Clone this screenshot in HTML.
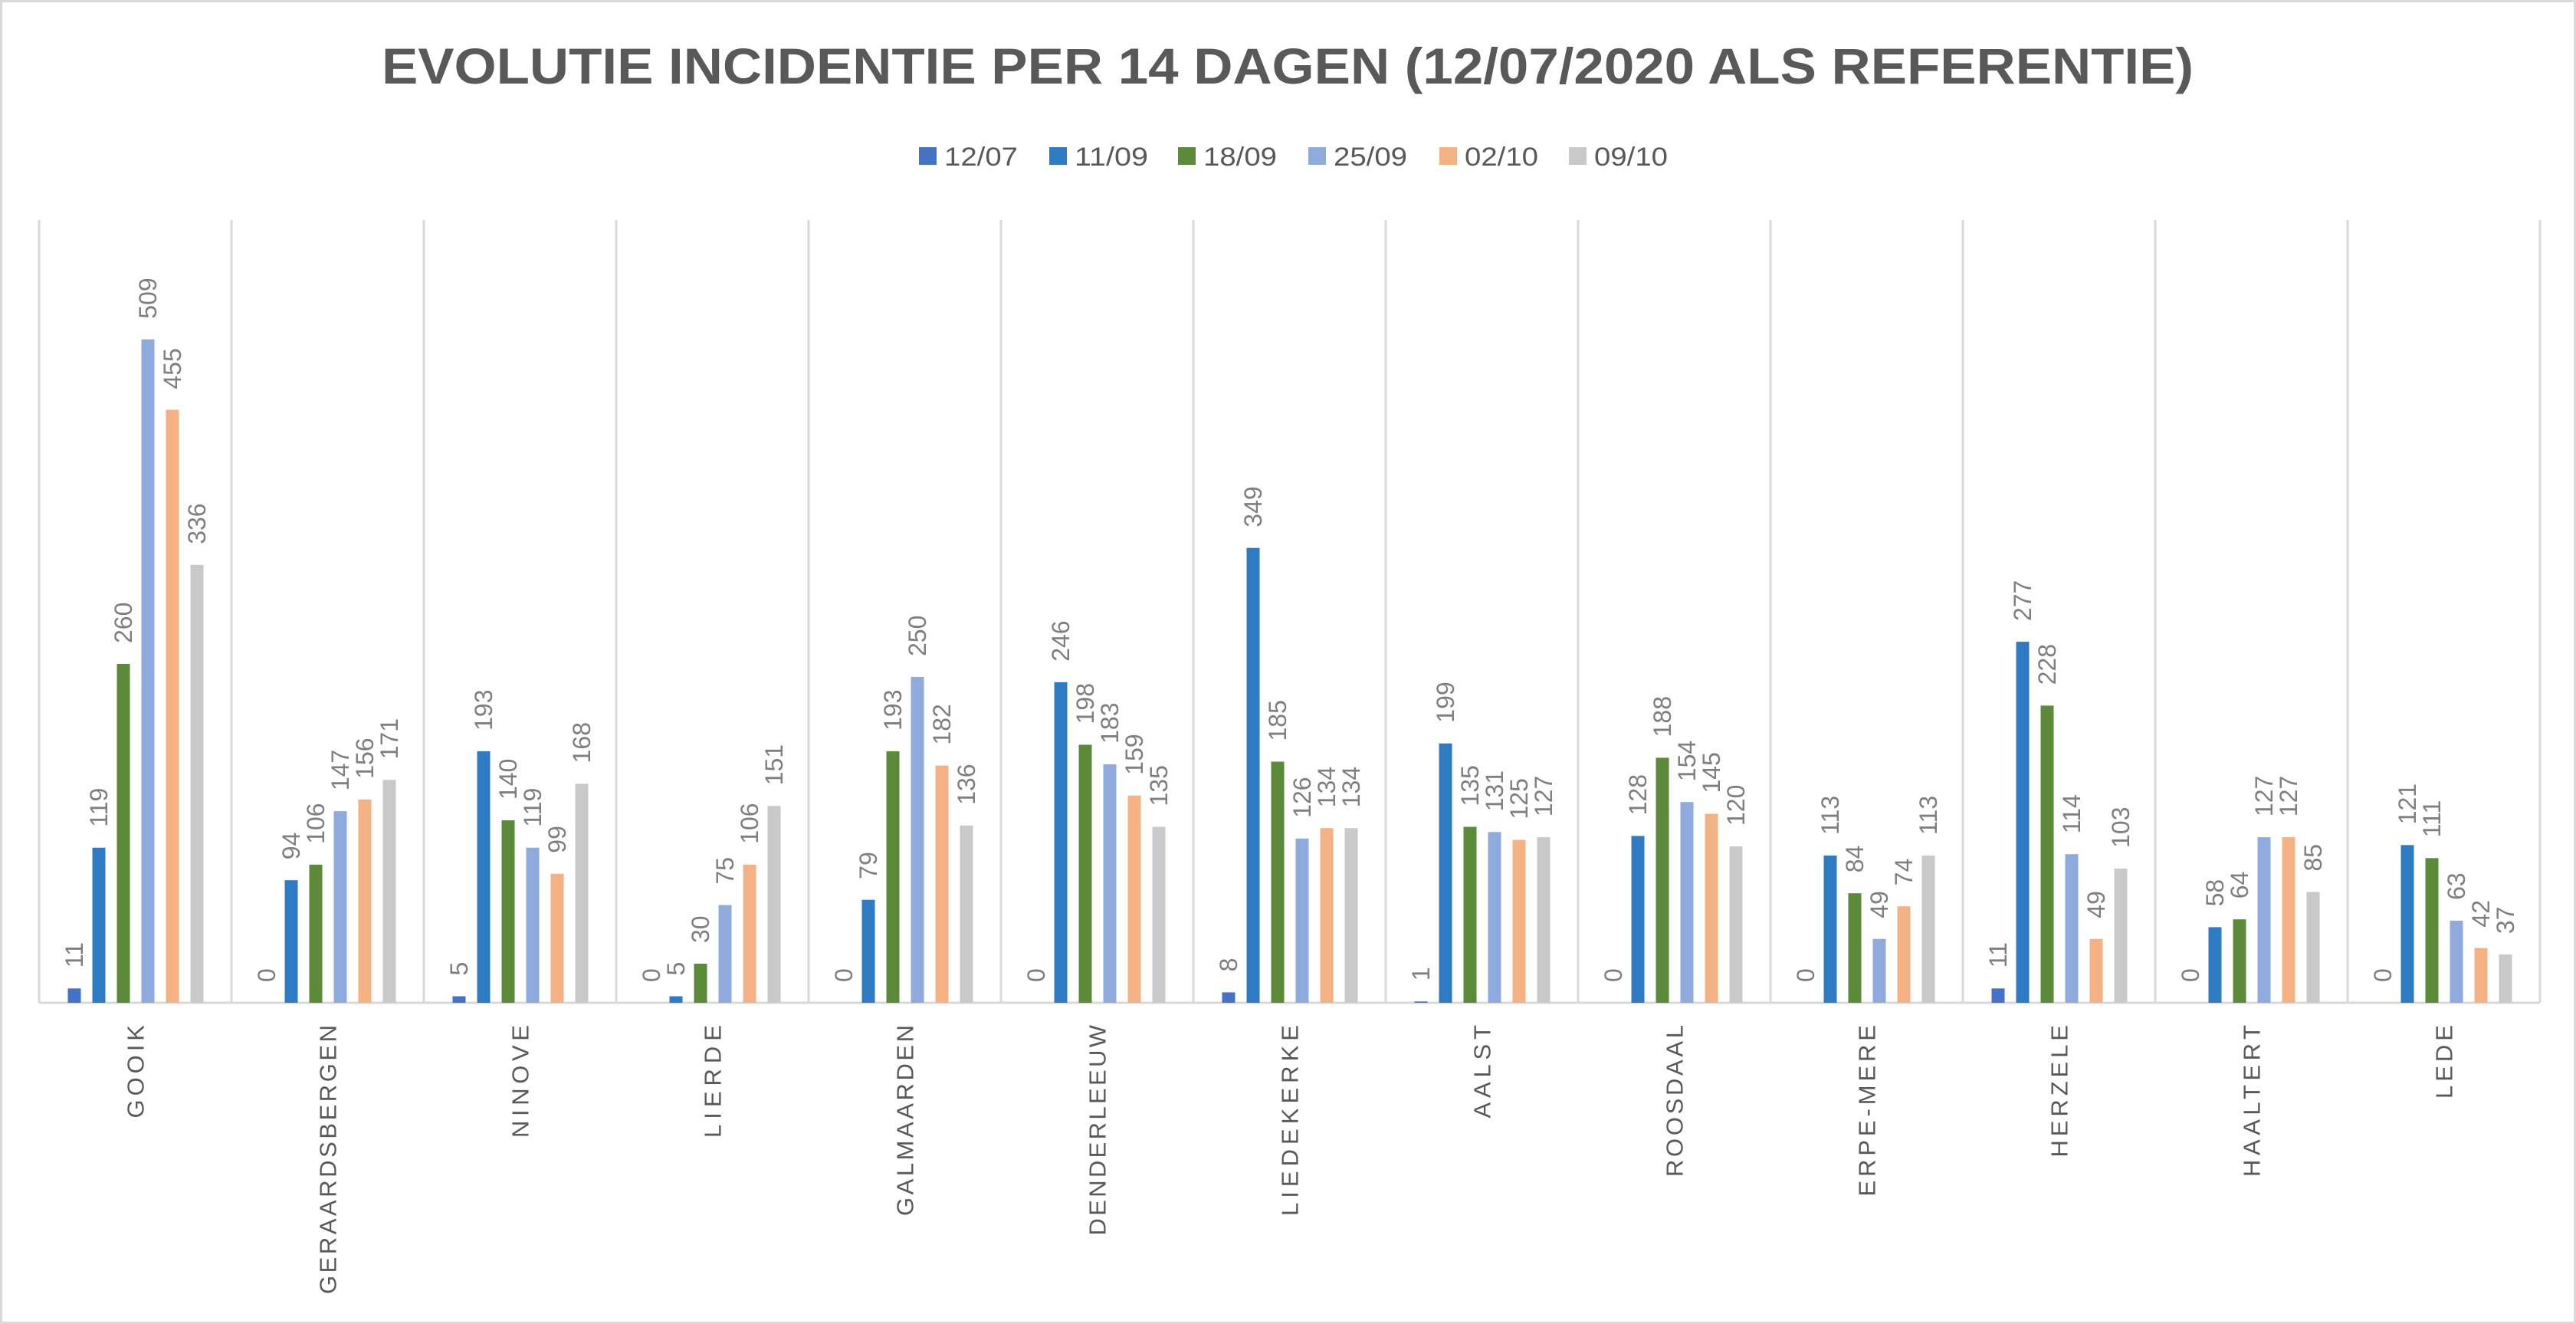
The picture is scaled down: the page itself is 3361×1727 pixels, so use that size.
<!DOCTYPE html>
<html><head><meta charset="utf-8">
<style>html,body{margin:0;padding:0;background:#fff}svg{display:block}
.v{font-size:32px;fill:#7f7f7f}.c{font-size:31px;fill:#595959}</style>
</head><body>
<svg width="3361" height="1727" xmlns="http://www.w3.org/2000/svg" font-family="Liberation Sans, sans-serif">
<rect x="1.5" y="1.5" width="3358" height="1724" fill="#fff" stroke="#d9d9d9" stroke-width="3"/>
<text x="498" y="109" font-size="66" font-weight="bold" fill="#595959" textLength="2364" lengthAdjust="spacingAndGlyphs">EVOLUTIE INCIDENTIE PER 14 DAGEN (12/07/2020 ALS REFERENTIE)</text>
<g font-size="34" fill="#595959">
<rect x="1199" y="192" width="23" height="23" fill="#4472c4"/><text x="1232" y="216" textLength="96" lengthAdjust="spacingAndGlyphs">12/07</text>
<rect x="1369" y="192" width="23" height="23" fill="#2e7bc4"/><text x="1402" y="216" textLength="96" lengthAdjust="spacingAndGlyphs">11/09</text>
<rect x="1537" y="192" width="23" height="23" fill="#5b8a38"/><text x="1570" y="216" textLength="96" lengthAdjust="spacingAndGlyphs">18/09</text>
<rect x="1707" y="192" width="23" height="23" fill="#8faadc"/><text x="1740" y="216" textLength="96" lengthAdjust="spacingAndGlyphs">25/09</text>
<rect x="1878" y="192" width="23" height="23" fill="#f4b183"/><text x="1911" y="216" textLength="96" lengthAdjust="spacingAndGlyphs">02/10</text>
<rect x="2047" y="192" width="23" height="23" fill="#c9c9c9"/><text x="2080" y="216" textLength="96" lengthAdjust="spacingAndGlyphs">09/10</text>
</g>
<g stroke="#d9d9d9" stroke-width="3">
<line x1="51" y1="287" x2="51" y2="1308"/><line x1="302" y1="287" x2="302" y2="1308"/><line x1="553" y1="287" x2="553" y2="1308"/><line x1="804" y1="287" x2="804" y2="1308"/><line x1="1055" y1="287" x2="1055" y2="1308"/><line x1="1306" y1="287" x2="1306" y2="1308"/><line x1="1557" y1="287" x2="1557" y2="1308"/><line x1="1808" y1="287" x2="1808" y2="1308"/><line x1="2059" y1="287" x2="2059" y2="1308"/><line x1="2310" y1="287" x2="2310" y2="1308"/><line x1="2561" y1="287" x2="2561" y2="1308"/><line x1="2812" y1="287" x2="2812" y2="1308"/><line x1="3063" y1="287" x2="3063" y2="1308"/><line x1="3314" y1="287" x2="3314" y2="1308"/>
<line x1="51" y1="1308" x2="3314" y2="1308"/>
</g>

<g transform="translate(51,0)">
<rect x="37.5" y="1289.3" width="17" height="18.7" fill="#4472c4"/><rect x="69.5" y="1105.7" width="17" height="202.3" fill="#2e7bc4"/><rect x="101.5" y="866" width="17" height="442" fill="#5b8a38"/><rect x="133.5" y="442.7" width="17" height="865.3" fill="#8faadc"/><rect x="165.5" y="534.5" width="17" height="773.5" fill="#f4b183"/><rect x="197.5" y="736.8" width="17" height="571.2" fill="#c9c9c9"/>
<text class="v" transform="translate(57,1262.3) rotate(-90)">11</text><text class="v" transform="translate(89,1078.7) rotate(-90)">119</text><text class="v" transform="translate(121,839) rotate(-90)">260</text><text class="v" transform="translate(153,415.7) rotate(-90)">509</text><text class="v" transform="translate(185,507.5) rotate(-90)">455</text><text class="v" transform="translate(217,709.8) rotate(-90)">336</text>
<text class="c" transform="translate(136.5,1337) rotate(-90)" text-anchor="end" textLength="121.5" lengthAdjust="spacing">GOOIK</text>
</g>

<g transform="translate(302,0)">
<rect x="69.5" y="1148.2" width="17" height="159.8" fill="#2e7bc4"/><rect x="101.5" y="1127.8" width="17" height="180.2" fill="#5b8a38"/><rect x="133.5" y="1058.1" width="17" height="249.9" fill="#8faadc"/><rect x="165.5" y="1042.8" width="17" height="265.2" fill="#f4b183"/><rect x="197.5" y="1017.3" width="17" height="290.7" fill="#c9c9c9"/>
<text class="v" transform="translate(57,1281) rotate(-90)">0</text><text class="v" transform="translate(89,1121.2) rotate(-90)">94</text><text class="v" transform="translate(121,1100.8) rotate(-90)">106</text><text class="v" transform="translate(153,1031.1) rotate(-90)">147</text><text class="v" transform="translate(185,1015.8) rotate(-90)">156</text><text class="v" transform="translate(217,990.3) rotate(-90)">171</text>
<text class="c" transform="translate(136.5,1337) rotate(-90)" text-anchor="end" textLength="351" lengthAdjust="spacing">GERAARDSBERGEN</text>
</g>

<g transform="translate(553,0)">
<rect x="37.5" y="1299.5" width="17" height="8.5" fill="#4472c4"/><rect x="69.5" y="979.9" width="17" height="328.1" fill="#2e7bc4"/><rect x="101.5" y="1070" width="17" height="238" fill="#5b8a38"/><rect x="133.5" y="1105.7" width="17" height="202.3" fill="#8faadc"/><rect x="165.5" y="1139.7" width="17" height="168.3" fill="#f4b183"/><rect x="197.5" y="1022.4" width="17" height="285.6" fill="#c9c9c9"/>
<text class="v" transform="translate(57,1272.5) rotate(-90)">5</text><text class="v" transform="translate(89,952.9) rotate(-90)">193</text><text class="v" transform="translate(121,1043) rotate(-90)">140</text><text class="v" transform="translate(153,1078.7) rotate(-90)">119</text><text class="v" transform="translate(185,1112.7) rotate(-90)">99</text><text class="v" transform="translate(217,995.4) rotate(-90)">168</text>
<text class="c" transform="translate(136.5,1337) rotate(-90)" text-anchor="end" textLength="147" lengthAdjust="spacing">NINOVE</text>
</g>

<g transform="translate(804,0)">
<rect x="69.5" y="1299.5" width="17" height="8.5" fill="#2e7bc4"/><rect x="101.5" y="1257" width="17" height="51" fill="#5b8a38"/><rect x="133.5" y="1180.5" width="17" height="127.5" fill="#8faadc"/><rect x="165.5" y="1127.8" width="17" height="180.2" fill="#f4b183"/><rect x="197.5" y="1051.3" width="17" height="256.7" fill="#c9c9c9"/>
<text class="v" transform="translate(57,1281) rotate(-90)">0</text><text class="v" transform="translate(89,1272.5) rotate(-90)">5</text><text class="v" transform="translate(121,1230) rotate(-90)">30</text><text class="v" transform="translate(153,1153.5) rotate(-90)">75</text><text class="v" transform="translate(185,1100.8) rotate(-90)">106</text><text class="v" transform="translate(217,1024.3) rotate(-90)">151</text>
<text class="c" transform="translate(136.5,1337) rotate(-90)" text-anchor="end" textLength="147" lengthAdjust="spacing">LIERDE</text>
</g>

<g transform="translate(1055,0)">
<rect x="69.5" y="1173.7" width="17" height="134.3" fill="#2e7bc4"/><rect x="101.5" y="979.9" width="17" height="328.1" fill="#5b8a38"/><rect x="133.5" y="883" width="17" height="425" fill="#8faadc"/><rect x="165.5" y="998.6" width="17" height="309.4" fill="#f4b183"/><rect x="197.5" y="1076.8" width="17" height="231.2" fill="#c9c9c9"/>
<text class="v" transform="translate(57,1281) rotate(-90)">0</text><text class="v" transform="translate(89,1146.7) rotate(-90)">79</text><text class="v" transform="translate(121,952.9) rotate(-90)">193</text><text class="v" transform="translate(153,856) rotate(-90)">250</text><text class="v" transform="translate(185,971.6) rotate(-90)">182</text><text class="v" transform="translate(217,1049.8) rotate(-90)">136</text>
<text class="c" transform="translate(136.5,1337) rotate(-90)" text-anchor="end" textLength="249" lengthAdjust="spacing">GALMAARDEN</text>
</g>

<g transform="translate(1306,0)">
<rect x="69.5" y="889.8" width="17" height="418.2" fill="#2e7bc4"/><rect x="101.5" y="971.4" width="17" height="336.6" fill="#5b8a38"/><rect x="133.5" y="996.9" width="17" height="311.1" fill="#8faadc"/><rect x="165.5" y="1037.7" width="17" height="270.3" fill="#f4b183"/><rect x="197.5" y="1078.5" width="17" height="229.5" fill="#c9c9c9"/>
<text class="v" transform="translate(57,1281) rotate(-90)">0</text><text class="v" transform="translate(89,862.8) rotate(-90)">246</text><text class="v" transform="translate(121,944.4) rotate(-90)">198</text><text class="v" transform="translate(153,969.9) rotate(-90)">183</text><text class="v" transform="translate(185,1010.7) rotate(-90)">159</text><text class="v" transform="translate(217,1051.5) rotate(-90)">135</text>
<text class="c" transform="translate(136.5,1337) rotate(-90)" text-anchor="end" textLength="274.5" lengthAdjust="spacing">DENDERLEEUW</text>
</g>

<g transform="translate(1557,0)">
<rect x="37.5" y="1294.4" width="17" height="13.6" fill="#4472c4"/><rect x="69.5" y="714.7" width="17" height="593.3" fill="#2e7bc4"/><rect x="101.5" y="993.5" width="17" height="314.5" fill="#5b8a38"/><rect x="133.5" y="1093.8" width="17" height="214.2" fill="#8faadc"/><rect x="165.5" y="1080.2" width="17" height="227.8" fill="#f4b183"/><rect x="197.5" y="1080.2" width="17" height="227.8" fill="#c9c9c9"/>
<text class="v" transform="translate(57,1267.4) rotate(-90)">8</text><text class="v" transform="translate(89,687.7) rotate(-90)">349</text><text class="v" transform="translate(121,966.5) rotate(-90)">185</text><text class="v" transform="translate(153,1066.8) rotate(-90)">126</text><text class="v" transform="translate(185,1053.2) rotate(-90)">134</text><text class="v" transform="translate(217,1053.2) rotate(-90)">134</text>
<text class="c" transform="translate(136.5,1337) rotate(-90)" text-anchor="end" textLength="249" lengthAdjust="spacing">LIEDEKERKE</text>
</g>

<g transform="translate(1808,0)">
<rect x="37.5" y="1306.3" width="17" height="1.7" fill="#4472c4"/><rect x="69.5" y="969.7" width="17" height="338.3" fill="#2e7bc4"/><rect x="101.5" y="1078.5" width="17" height="229.5" fill="#5b8a38"/><rect x="133.5" y="1085.3" width="17" height="222.7" fill="#8faadc"/><rect x="165.5" y="1095.5" width="17" height="212.5" fill="#f4b183"/><rect x="197.5" y="1092.1" width="17" height="215.9" fill="#c9c9c9"/>
<text class="v" transform="translate(57,1279.3) rotate(-90)">1</text><text class="v" transform="translate(89,942.7) rotate(-90)">199</text><text class="v" transform="translate(121,1051.5) rotate(-90)">135</text><text class="v" transform="translate(153,1058.3) rotate(-90)">131</text><text class="v" transform="translate(185,1068.5) rotate(-90)">125</text><text class="v" transform="translate(217,1065.1) rotate(-90)">127</text>
<text class="c" transform="translate(136.5,1337) rotate(-90)" text-anchor="end" textLength="121.5" lengthAdjust="spacing">AALST</text>
</g>

<g transform="translate(2059,0)">
<rect x="69.5" y="1090.4" width="17" height="217.6" fill="#2e7bc4"/><rect x="101.5" y="988.4" width="17" height="319.6" fill="#5b8a38"/><rect x="133.5" y="1046.2" width="17" height="261.8" fill="#8faadc"/><rect x="165.5" y="1061.5" width="17" height="246.5" fill="#f4b183"/><rect x="197.5" y="1104" width="17" height="204" fill="#c9c9c9"/>
<text class="v" transform="translate(57,1281) rotate(-90)">0</text><text class="v" transform="translate(89,1063.4) rotate(-90)">128</text><text class="v" transform="translate(121,961.4) rotate(-90)">188</text><text class="v" transform="translate(153,1019.2) rotate(-90)">154</text><text class="v" transform="translate(185,1034.5) rotate(-90)">145</text><text class="v" transform="translate(217,1077) rotate(-90)">120</text>
<text class="c" transform="translate(136.5,1337) rotate(-90)" text-anchor="end" textLength="198" lengthAdjust="spacing">ROOSDAAL</text>
</g>

<g transform="translate(2310,0)">
<rect x="69.5" y="1115.9" width="17" height="192.1" fill="#2e7bc4"/><rect x="101.5" y="1165.2" width="17" height="142.8" fill="#5b8a38"/><rect x="133.5" y="1224.7" width="17" height="83.3" fill="#8faadc"/><rect x="165.5" y="1182.2" width="17" height="125.8" fill="#f4b183"/><rect x="197.5" y="1115.9" width="17" height="192.1" fill="#c9c9c9"/>
<text class="v" transform="translate(57,1281) rotate(-90)">0</text><text class="v" transform="translate(89,1088.9) rotate(-90)">113</text><text class="v" transform="translate(121,1138.2) rotate(-90)">84</text><text class="v" transform="translate(153,1197.7) rotate(-90)">49</text><text class="v" transform="translate(185,1155.2) rotate(-90)">74</text><text class="v" transform="translate(217,1088.9) rotate(-90)">113</text>
<text class="c" transform="translate(136.5,1337) rotate(-90)" text-anchor="end" textLength="223.5" lengthAdjust="spacing">ERPE-MERE</text>
</g>

<g transform="translate(2561,0)">
<rect x="37.5" y="1289.3" width="17" height="18.7" fill="#4472c4"/><rect x="69.5" y="837.1" width="17" height="470.9" fill="#2e7bc4"/><rect x="101.5" y="920.4" width="17" height="387.6" fill="#5b8a38"/><rect x="133.5" y="1114.2" width="17" height="193.8" fill="#8faadc"/><rect x="165.5" y="1224.7" width="17" height="83.3" fill="#f4b183"/><rect x="197.5" y="1132.9" width="17" height="175.1" fill="#c9c9c9"/>
<text class="v" transform="translate(57,1262.3) rotate(-90)">11</text><text class="v" transform="translate(89,810.1) rotate(-90)">277</text><text class="v" transform="translate(121,893.4) rotate(-90)">228</text><text class="v" transform="translate(153,1087.2) rotate(-90)">114</text><text class="v" transform="translate(185,1197.7) rotate(-90)">49</text><text class="v" transform="translate(217,1105.9) rotate(-90)">103</text>
<text class="c" transform="translate(136.5,1337) rotate(-90)" text-anchor="end" textLength="172.5" lengthAdjust="spacing">HERZELE</text>
</g>

<g transform="translate(2812,0)">
<rect x="69.5" y="1209.4" width="17" height="98.6" fill="#2e7bc4"/><rect x="101.5" y="1199.2" width="17" height="108.8" fill="#5b8a38"/><rect x="133.5" y="1092.1" width="17" height="215.9" fill="#8faadc"/><rect x="165.5" y="1092.1" width="17" height="215.9" fill="#f4b183"/><rect x="197.5" y="1163.5" width="17" height="144.5" fill="#c9c9c9"/>
<text class="v" transform="translate(57,1281) rotate(-90)">0</text><text class="v" transform="translate(89,1182.4) rotate(-90)">58</text><text class="v" transform="translate(121,1172.2) rotate(-90)">64</text><text class="v" transform="translate(153,1065.1) rotate(-90)">127</text><text class="v" transform="translate(185,1065.1) rotate(-90)">127</text><text class="v" transform="translate(217,1136.5) rotate(-90)">85</text>
<text class="c" transform="translate(136.5,1337) rotate(-90)" text-anchor="end" textLength="198" lengthAdjust="spacing">HAALTERT</text>
</g>

<g transform="translate(3063,0)">
<rect x="69.5" y="1102.3" width="17" height="205.7" fill="#2e7bc4"/><rect x="101.5" y="1119.3" width="17" height="188.7" fill="#5b8a38"/><rect x="133.5" y="1200.9" width="17" height="107.1" fill="#8faadc"/><rect x="165.5" y="1236.6" width="17" height="71.4" fill="#f4b183"/><rect x="197.5" y="1245.1" width="17" height="62.9" fill="#c9c9c9"/>
<text class="v" transform="translate(57,1281) rotate(-90)">0</text><text class="v" transform="translate(89,1075.3) rotate(-90)">121</text><text class="v" transform="translate(121,1092.3) rotate(-90)">111</text><text class="v" transform="translate(153,1173.9) rotate(-90)">63</text><text class="v" transform="translate(185,1209.6) rotate(-90)">42</text><text class="v" transform="translate(217,1218.1) rotate(-90)">37</text>
<text class="c" transform="translate(136.5,1337) rotate(-90)" text-anchor="end" textLength="96" lengthAdjust="spacing">LEDE</text>
</g>
</svg>
</body></html>
